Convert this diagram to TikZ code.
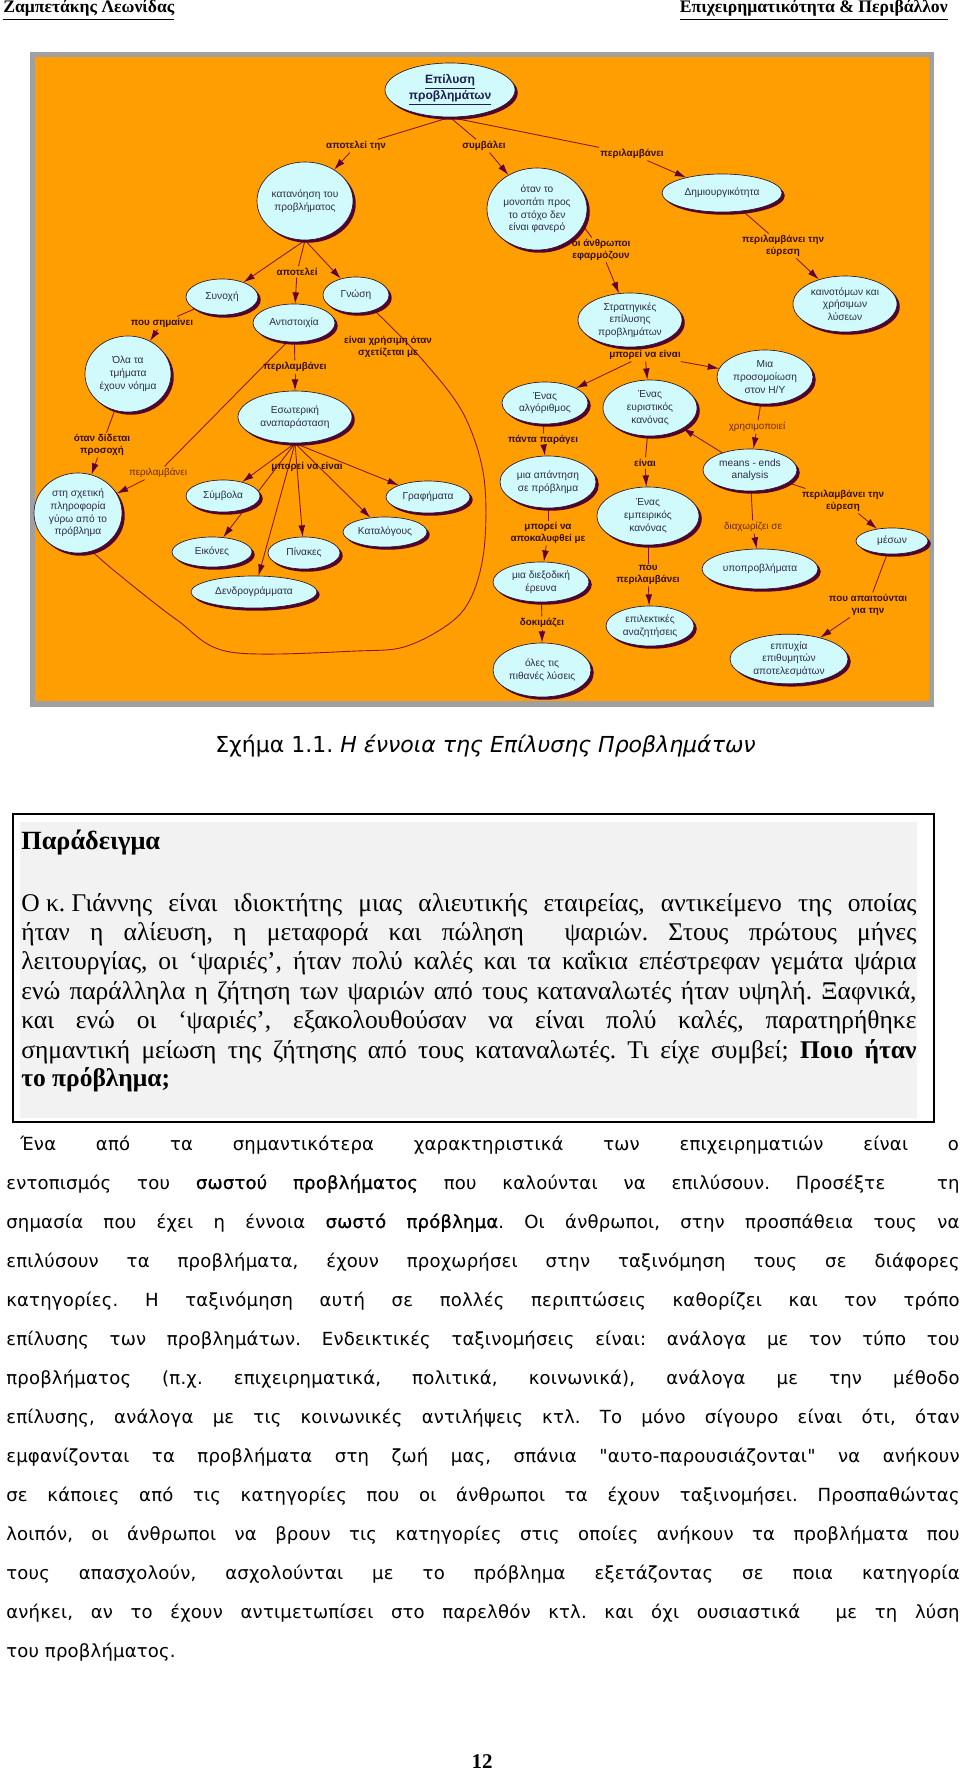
\documentclass[tikz,border=0pt]{standalone}
\usepackage{fontspec}
\usepackage{graphicx}
\setmainfont{Liberation Serif}
\newfontfamily\dsans[LetterSpace=1]{DejaVu Sans}
\newfontfamily\dsansm[LetterSpace=1,FakeBold=0.8]{DejaVu Sans}
\newfontfamily\capfont{DejaVu Sans}
\newfontfamily\lsans{Liberation Sans}
\usetikzlibrary{shapes.geometric,shadows,arrows.meta}
\definecolor{orng}{RGB}{255,158,0}
\definecolor{framec}{RGB}{160,160,160}
\definecolor{elfill}{RGB}{208,250,252}
\definecolor{elline}{RGB}{40,20,40}
\definecolor{shadc}{RGB}{85,0,45}
\definecolor{eltext}{RGB}{45,45,70}
\definecolor{labc}{RGB}{55,15,0}
\definecolor{labn}{RGB}{110,40,0}
\definecolor{linec}{RGB}{135,25,30}
\definecolor{arrc}{RGB}{95,0,55}
\definecolor{boxgray}{RGB}{242,242,242}
\definecolor{eptext}{RGB}{30,30,80}
\pgfdeclarelayer{back}
\pgfdeclarelayer{edges}
\pgfsetlayers{back,edges,main}
\AtBeginDocument{\frenchspacing}
\newcommand\jbox[2]{\makebox[#1][s]{\frenchspacing\xspaceskip=\fontdimen2\font plus \fontdimen3\font minus \fontdimen4\font\relax #2}}
\tikzset{
  ell/.style 2 args={ellipse, draw=elline, line width=0.4pt, fill=elfill,
    minimum width=#1*1.24pt, minimum height=#2*1.24pt, inner sep=0pt,
    align=center, font=\lsans\fontsize{6.3}{7.9}\selectfont, text=eltext,
    drop shadow={shadow xshift=1.7pt, shadow yshift=-1.7pt, opacity=1, fill=shadc}},
  lbl/.style={font=\lsans\bfseries\fontsize{6.1}{7.3}\selectfont, text=labc, inner sep=1pt, align=center},
  lbn/.style={font=\lsans\fontsize{6.1}{7.3}\selectfont, text=labn, inner sep=1pt, align=center},
  ln/.style={draw=linec, line width=0.55pt},
  arr/.style={ln, -{Latex[length=7pt,width=4.2pt,color=arrc]}},
  tb/.style={anchor=base west, inner sep=0pt, font=\fontsize{15.8}{18}\selectfont},
  ts/.style={anchor=base west, inner sep=0pt, font=\dsans\fontsize{11.2}{13}\selectfont}
}
\begin{document}
\begin{tikzpicture}[x=0.62pt,y=-0.62pt]
\useasboundingbox (0,0) rectangle (960,1773);
\begin{pgfonlayer}{back}
\fill[white] (0,0) rectangle (960,1773);
\fill[framec] (30,52) rectangle (934,707);
\fill[orng] (35,57) rectangle (929,701);
\end{pgfonlayer}

% ---------------- ellipses
\node[ell={65}{27}, font=\lsans\bfseries\fontsize{7.5}{8.8}\selectfont, text=eptext] (ep) at (450,90) {\underline{Επίλυση}\\\underline{προβλημάτων}};
\node[ell={48}{39}] (kp) at (305,201) {κατανόηση του\\προβλήματος};
\node[ell={36}{18}] (sn) at (222,297) {Συνοχή};
\node[ell={41}{19}] (an) at (294,323) {Αντιστοιχία};
\node[ell={33}{18}] (gn) at (356,295) {Γνώση};
\node[ell={43}{38}] (ol) at (128,374) {Όλα τα\\τμήματα\\έχουν νόημα};
\node[ell={44}{40}] (sx) at (78,513) {στη σχετική\\πληροφορία\\γύρω από το\\πρόβλημα};
\node[ell={57}{26}] (es) at (295,417) {Εσωτερική\\αναπαράσταση};
\node[ell={37}{16}] (sy) at (223,496) {Σύμβολα};
\node[ell={40}{15}] (ei) at (212,552) {Εικόνες};
\node[ell={36}{16}] (pi) at (304,553) {Πίνακες};
\node[ell={63}{16}] (de) at (254,592) {Δενδρογράμματα};
\node[ell={42}{16}] (gr) at (428,497) {Γραφήματα};
\node[ell={42}{15}] (ka) at (385,532) {Καταλόγους};
\node[ell={50}{41}] (ot) at (537,209) {όταν το\\μονοπάτι προς\\το στόχο δεν\\είναι φανερό};
\node[ell={52}{27}] (st) at (630,320) {Στρατηγικές\\επίλυσης\\προβλημάτων};
\node[ell={43}{21}] (al) at (545,403) {Ένας\\αλγόριθμος};
\node[ell={48}{26}] (ap) at (548,482) {μια απάντηση\\σε πρόβλημα};
\node[ell={48}{20}] (di) at (541,582) {μια διεξοδική\\έρευνα};
\node[ell={49}{27}] (ls) at (542,670) {όλες τις\\πιθανές λύσεις};
\node[ell={47}{28}] (eu) at (650,408) {Ένας\\ευριστικός\\κανόνας};
\node[ell={51}{29}] (em) at (648,516) {Ένας\\εμπειρικός\\κανόνας};
\node[ell={44}{20}] (el) at (650,626) {επιλεκτικές\\αναζητήσεις};
\node[ell={48}{27}] (pr) at (765,377) {Μια\\προσομοίωση\\στον Η/Υ};
\node[ell={47}{21}] (me) at (750,470) {means - ends\\analysis};
\node[ell={36}{13}] (mx) at (892,541) {μέσων};
\node[ell={59}{24}] (et) at (789,659) {επιτυχία\\επιθυμητών\\αποτελεσμάτων};
\node[ell={58}{20}] (yp) at (760,569) {υποπροβλήματα};
\node[ell={60}{19}] (dm) at (722,193) {Δημιουργικότητα};
\node[ell={52}{28}] (kn) at (845,304) {καινοτόμων και\\χρήσιμων\\λύσεων};

% ---------------- labels
\node[lbl] (l1) at (356,146) {αποτελεί την};
\node[lbl] (l2) at (484,146) {συμβάλει};
\node[lbl] (l3) at (632,154) {περιλαμβάνει};
\node[lbl] (l4) at (297,272) {αποτελεί};
\node[lbl] (l5) at (162,323) {που σημαίνει};
\node[lbl] (l6) at (102,445) {όταν δίδεται\\προσοχή};
\node[lbl] (l7) at (295,367) {περιλαμβάνει};
\node[lbn] (l8) at (158,473) {περιλαμβάνει};
\node[lbl] (l9) at (307,467) {μπορεί να είναι};
\node[lbl] (l10) at (388,347) {είναι χρήσιμη όταν\\σχετίζεται με};
\node[lbl] (l11) at (601,250) {οι άνθρωποι\\εφαρμόζουν};
\node[lbl] (l12) at (645,355) {μπορεί να είναι};
\node[lbl] (l13) at (543,440) {πάντα παράγει};
\node[lbl] (l14) at (548,533) {μπορεί να\\αποκαλυφθεί με};
\node[lbl] (l15) at (542,623) {δοκιμάζει};
\node[lbl] (l16) at (645,463) {είναι};
\node[lbl] (l17) at (648,575) {που\\περιλαμβάνει};
\node[lbn] (l18) at (757,427) {χρησιμοποιεί};
\node[lbn] (l19) at (753,527) {διαχωρίζει σε};
\node[lbl] (l20) at (843,501) {περιλαμβάνει την\\εύρεση};
\node[lbl] (l21) at (868,605) {που απαιτούνται\\για την};
\node[lbl] (l22) at (783,246) {περιλαμβάνει την\\εύρεση};

% ---------------- connectors
\begin{pgfonlayer}{edges}
\draw[ln] (ep.south) -- (l1); \draw[arr] (l1) -- (kp);
\draw[ln] (ep.south) -- (l2); \draw[arr] (l2) -- (ot);
\draw[ln] (ep.south) -- (l3); \draw[arr] (l3) -- (dm);
\draw[ln] (kp.south) -- (l4); \draw[arr] (l4) -- (an);
\draw[arr] (kp.south) -- (sn);
\draw[arr] (kp.south) -- (gn);
\draw[ln] (sn) -- (l5); \draw[arr] (l5) -- (ol);
\draw[ln] (ol) -- (l6); \draw[arr] (l6) -- (sx);
\draw[ln] (an) -- (l7); \draw[arr] (l7) -- (es);
\draw[ln] (an.250) -- (l8); \draw[arr] (l8) -- (sx);
\draw[arr] (es.south) -- (sy);
\draw[arr] (es.south) -- (ei);
\draw[arr] (es.south) -- (de);
\draw[arr] (es.south) -- (pi);
\draw[arr] (es.south) -- (ka);
\draw[arr] (es.south) -- (gr);
\draw[ln] plot[smooth, tension=0.55] coordinates {(gn.-40) (420,357) (463,413) (484,478) (483,557) (462,612) (410,645) (357,651) (230,652) (177,620) (117,573) (sx.-70)};
\draw[ln] (ot.-20) -- (l11); \draw[arr] (l11) -- (st);
\draw[ln] (st) -- (l12);
\draw[arr] (l12) -- (al);
\draw[arr] (l12) -- (eu);
\draw[arr] (l12) -- (pr);
\draw[ln] (al) -- (l13); \draw[arr] (l13) -- (ap);
\draw[ln] (ap) -- (l14); \draw[arr] (l14) -- (di);
\draw[ln] (di) -- (l15); \draw[arr] (l15) -- (ls);
\draw[ln] (eu) -- (l16); \draw[arr] (l16) -- (em);
\draw[ln] (em) -- (l17); \draw[arr] (l17) -- (el);
\draw[ln] (pr) -- (l18); \draw[arr] (l18) -- (me);
\draw[arr] (me) -- (eu);
\draw[ln] (me) -- (l19); \draw[arr] (l19) -- (yp);
\draw[ln] (me) -- (l20); \draw[arr] (l20) -- (mx);
\draw[ln] (mx) -- (l21); \draw[arr] (l21) -- (et);
\draw[ln] (dm) -- (l22); \draw[arr] (l22) -- (kn);
\end{pgfonlayer}

% ---------------- page text
\node[anchor=base west, inner sep=0pt] (hl) at (3,13) {\resizebox{106pt}{!}{\bfseries\underline{Ζαμπετάκης Λεωνίδας}}};
\node[anchor=base east, inner sep=0pt] (hr) at (948,13) {\resizebox{166pt}{!}{\bfseries\underline{Επιχειρηματικότητα \& Περιβάλλον}}};
\node[anchor=base west, inner sep=0pt] (cap) at (215,752) {\resizebox{335pt}{!}{\capfont Σχήμα 1.1. \textit{Η έννοια της Επίλυσης Προβλημάτων}}};

\draw[line width=1pt] (13,814) rectangle (934,1122);
\fill[boxgray] (20,822) rectangle (917,1118);
\node[anchor=base west, inner sep=0pt] (par) at (21,849) {\fontsize{16.3}{19}\selectfont\bfseries Παράδειγμα};
\node[tb] (b1) at (21,911) {\jbox{555pt}{\mbox{Ο κ. Γιάννης} είναι ιδιοκτήτης μιας αλιευτικής εταιρείας, αντικείμενο της οποίας}};
\node[tb] (b2) at (21,940) {\jbox{555pt}{ήταν η αλίευση, η μεταφορά και πώληση\ \ ψαριών. Στους πρώτους μήνες}};
\node[tb] (b3) at (21,969) {\jbox{555pt}{λειτουργίας, οι ‘ψαριές’, ήταν πολύ καλές και τα καΐκια επέστρεφαν γεμάτα ψάρια}};
\node[tb] (b4) at (21,999) {\jbox{555pt}{ενώ παράλληλα η ζήτηση των ψαριών από τους καταναλωτές ήταν υψηλή. Ξαφνικά,}};
\node[tb] (b5) at (21,1028) {\jbox{555pt}{και ενώ οι ‘ψαριές’, εξακολουθούσαν να είναι πολύ καλές, παρατηρήθηκε}};
\node[tb] (b6) at (21,1058) {\jbox{555pt}{σημαντική μείωση της ζήτησης από τους καταναλωτές. Τι είχε συμβεί; \textbf{Ποιο ήταν}}};
\node[tb] (b7) at (21,1086) {\textbf{το πρόβλημα;}};

\node[ts] (t1) at (20,1150) {\jbox{582pt}{Ένα από τα σημαντικότερα χαρακτηριστικά των επιχειρηματιών είναι ο}};
\node[ts] (t2) at (6,1189) {\jbox{591pt}{εντοπισμός του {\dsansm σωστού προβλήματος} που καλούνται να επιλύσουν. Προσέξτε\ \ τη}};
\node[ts] (t3) at (6,1228) {\jbox{591pt}{σημασία που έχει η έννοια {\dsansm σωστό πρόβλημα}. Οι άνθρωποι, στην προσπάθεια τους να}};
\node[ts] (t4) at (6,1267) {\jbox{591pt}{επιλύσουν τα προβλήματα, έχουν προχωρήσει στην ταξινόμηση τους σε διάφορες}};
\node[ts] (t5) at (6,1306) {\jbox{591pt}{κατηγορίες. Η ταξινόμηση αυτή σε πολλές περιπτώσεις καθορίζει και τον τρόπο}};
\node[ts] (t6) at (6,1345) {\jbox{591pt}{επίλυσης των προβλημάτων. Ενδεικτικές ταξινομήσεις είναι: ανάλογα με τον τύπο του}};
\node[ts] (t7) at (6,1384) {\jbox{591pt}{προβλήματος (π.χ. επιχειρηματικά, πολιτικά, κοινωνικά), ανάλογα με την μέθοδο}};
\node[ts] (t8) at (6,1423) {\jbox{591pt}{επίλυσης, ανάλογα με τις κοινωνικές αντιλήψεις κτλ. Το μόνο σίγουρο είναι ότι, όταν}};
\node[ts] (t9) at (6,1462) {\jbox{591pt}{εμφανίζονται τα προβλήματα στη ζωή μας, σπάνια "αυτο-παρουσιάζονται" να ανήκουν}};
\node[ts] (t10) at (6,1501) {\jbox{591pt}{σε κάποιες από τις κατηγορίες που οι άνθρωποι τα έχουν ταξινομήσει. Προσπαθώντας}};
\node[ts] (t11) at (6,1540) {\jbox{591pt}{λοιπόν, οι άνθρωποι να βρουν τις κατηγορίες στις οποίες ανήκουν τα προβλήματα που}};
\node[ts] (t12) at (6,1579) {\jbox{591pt}{τους απασχολούν, ασχολούνται με το πρόβλημα εξετάζοντας σε ποια κατηγορία}};
\node[ts] (t13) at (6,1618) {\jbox{591pt}{ανήκει, αν το έχουν αντιμετωπίσει στο παρελθόν κτλ. και όχι ουσιαστικά\ \ με τη λύση}};
\node[ts] (t14) at (6,1657) {του προβλήματος.};

\node[anchor=base, inner sep=0pt] (pn) at (482,1768) {\bfseries\fontsize{13}{15}\selectfont 12};
\end{tikzpicture}
\end{document}
